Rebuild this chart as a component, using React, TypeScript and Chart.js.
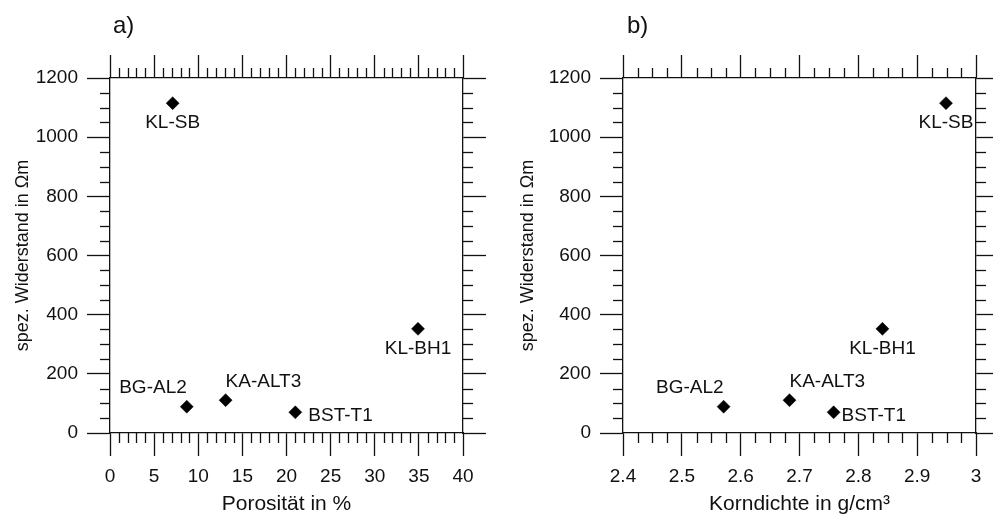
import React, { useEffect, useRef } from 'react';
import { Chart, registerables } from 'chart.js';

Chart.register(...registerables);

// ---- data ----
const samples = ['KL-SB', 'BG-AL2', 'KA-ALT3', 'BST-T1', 'KL-BH1'];
const porosity = [7.1, 8.7, 13.1, 21.0, 34.9];
const grainDensity = [2.949, 2.571, 2.683, 2.758, 2.841];
const resistivity = [1115, 89, 111, 70, 352];

const porosityTicks = [0, 5, 10, 15, 20, 25, 30, 35, 40];
const densityTicks = [2.4, 2.5, 2.6, 2.7, 2.8, 2.9, 3];
const resistivityTicks = [0, 200, 400, 600, 800, 1000, 1200];

const porosityMinor = 1;
const densityMinor = 0.025;
const resistivityMinor = 50;

const xTitleA = 'Porosität in %';
const xTitleB = 'Korndichte in g/cm³';
const yTitle = 'spez. Widerstand in Ωm';

// label placement around each marker (layout, not data)
const placementA = ['below', 'aboveLeft', 'aboveRight', 'right', 'below'];
const placementB = ['below', 'aboveLeft', 'aboveRight', 'right', 'below'];

const FONT = 'Arial, "Liberation Sans", Helvetica, sans-serif';
const INK = '#111';
const LW = 1.3;

const fmt = (v: number) => String(Math.round(v * 1000) / 1000);

const minorTicksPlugin = {
  id: 'minorTicks',
  afterDraw(chart: any, _args: any, opts: any) {
    const { ctx, chartArea } = chart;
    const len = opts.length ?? 10;
    ctx.save();
    ctx.strokeStyle = INK;
    ctx.lineWidth = LW;
    for (const id of Object.keys(opts.steps || {})) {
      const scale = chart.scales[id];
      if (!scale) continue;
      const step = opts.steps[id];
      const majors = scale.ticks.map((t: any) => t.value);
      const n = Math.round((scale.max - scale.min) / step);
      for (let i = 0; i <= n; i++) {
        const v = scale.min + i * step;
        if (majors.some((m: number) => Math.abs(m - v) < step / 10)) continue;
        const p = Math.round(scale.getPixelForValue(v)) + 0.5;
        ctx.beginPath();
        if (scale.position === 'bottom') {
          ctx.moveTo(p, chartArea.bottom);
          ctx.lineTo(p, chartArea.bottom + len);
        } else if (scale.position === 'top') {
          ctx.moveTo(p, chartArea.top);
          ctx.lineTo(p, chartArea.top - len);
        } else if (scale.position === 'left') {
          ctx.moveTo(chartArea.left - len, p);
          ctx.lineTo(chartArea.left, p);
        } else {
          ctx.moveTo(chartArea.right, p);
          ctx.lineTo(chartArea.right + len, p);
        }
        ctx.stroke();
      }
    }
    ctx.restore();
  },
};

const annotPlugin = {
  id: 'annot',
  afterDatasetsDraw(chart: any, _args: any, opts: any) {
    const { ctx } = chart;
    ctx.save();
    ctx.fillStyle = INK;
    // panel letter
    ctx.font = `24px ${FONT}`;
    ctx.textAlign = 'left';
    ctx.textBaseline = 'middle';
    ctx.fillText(opts.panel, opts.panelX, 26);
    // point labels
    ctx.font = `19px ${FONT}`;
    const meta = chart.getDatasetMeta(0);
    meta.data.forEach((el: any, i: number) => {
      const name = opts.names[i];
      const where = opts.placement[i];
      let x = el.x;
      let y = el.y;
      if (where === 'below') {
        ctx.textAlign = 'center';
        y += 20;
      } else if (where === 'aboveLeft') {
        ctx.textAlign = 'right';
        y -= 19;
      } else if (where === 'aboveRight') {
        ctx.textAlign = 'left';
        y -= 18;
      } else {
        ctx.textAlign = 'left';
        x += opts.rightGap;
        y += 3;
      }
      ctx.fillText(name, x, y);
    });
    ctx.restore();
  },
};

function makeConfig(p: {
  xs: number[];
  xTicks: number[];
  xMinor: number;
  xTitle: string;
  panel: string;
  panelX: number;
  placement: string[];
  rightGap: number;
  leftW: number;
  rightW: number;
  yTitlePad: number;
}) {
  const xMin = p.xTicks[0];
  const xMax = p.xTicks[p.xTicks.length - 1];
  const yMin = resistivityTicks[0];
  const yMax = resistivityTicks[resistivityTicks.length - 1];
  const setTicks = (vals: number[]) => (s: any) => {
    s.ticks = vals.map((v) => ({ value: v }));
  };
  const grid = {
    drawOnChartArea: false,
    drawTicks: true,
    tickLength: 23,
    tickColor: INK,
    tickWidth: LW,
  };
  const border = { display: true, color: INK, width: LW };
  return {
    type: 'scatter' as const,
    data: {
      datasets: [
        {
          data: p.xs.map((x, i) => ({ x, y: resistivity[i] })),
          pointStyle: 'rectRot',
          pointRadius: 6.5,
          pointBackgroundColor: '#000',
          pointBorderColor: '#000',
          pointBorderWidth: 0.5,
        },
      ],
    },
    options: {
      responsive: false,
      animation: false,
      events: [],
      layout: { padding: 0 },
      plugins: {
        legend: { display: false },
        tooltip: { enabled: false },
        minorTicks: {
          length: 10,
          steps: { x: p.xMinor, x2: p.xMinor, y: resistivityMinor, y2: resistivityMinor },
        },
        annot: {
          panel: p.panel,
          panelX: p.panelX,
          names: samples,
          placement: p.placement,
          rightGap: p.rightGap,
        },
      },
      scales: {
        x: {
          type: 'linear',
          position: 'bottom',
          min: xMin,
          max: xMax,
          afterBuildTicks: setTicks(p.xTicks),
          afterFit: (s: any) => {
            s.height = 84;
          },
          grid,
          border,
          ticks: {
            color: INK,
            font: { size: 19, family: FONT },
            padding: 9,
            maxRotation: 0,
            autoSkip: false,
            callback: (v: number) => fmt(v),
          },
          title: {
            display: true,
            text: p.xTitle,
            color: INK,
            font: { size: 21, family: FONT },
            padding: { top: 0, bottom: 0 },
          },
        },
        x2: {
          type: 'linear',
          position: 'top',
          min: xMin,
          max: xMax,
          afterBuildTicks: setTicks(p.xTicks),
          afterFit: (s: any) => {
            s.height = 78;
          },
          grid,
          border,
          ticks: { display: false },
        },
        y: {
          type: 'linear',
          position: 'left',
          min: yMin,
          max: yMax,
          afterBuildTicks: setTicks(resistivityTicks),
          afterFit: (s: any) => {
            s.width = p.leftW;
          },
          grid,
          border,
          ticks: {
            color: INK,
            font: { size: 19, family: FONT },
            padding: 9,
            autoSkip: false,
            callback: (v: number) => fmt(v),
          },
          title: {
            display: true,
            text: yTitle,
            color: INK,
            font: { size: 18, family: FONT },
            padding: { top: p.yTitlePad, bottom: 0 },
          },
        },
        y2: {
          type: 'linear',
          position: 'right',
          min: yMin,
          max: yMax,
          afterBuildTicks: setTicks(resistivityTicks),
          afterFit: (s: any) => {
            s.width = p.rightW;
          },
          grid,
          border,
          ticks: { display: false },
        },
      },
    },
    plugins: [minorTicksPlugin, annotPlugin],
  };
}

function Panel({ cfg, width }: { cfg: any; width: number }) {
  const ref = useRef<HTMLCanvasElement | null>(null);
  useEffect(() => {
    if (!ref.current) return;
    const chart = new Chart(ref.current, cfg);
    return () => chart.destroy();
  }, [cfg]);
  return (
    <canvas
      ref={ref}
      width={width}
      height={517}
      style={{ width, height: 517, display: 'block' }}
    />
  );
}

const cfgA = makeConfig({
  xs: porosity,
  xTicks: porosityTicks,
  xMinor: porosityMinor,
  xTitle: xTitleA,
  panel: 'a)',
  panelX: 113,
  placement: placementA,
  rightGap: 13,
  leftW: 110,
  rightW: 33,
  yTitlePad: 12,
});

const cfgB = makeConfig({
  xs: grainDensity,
  xTicks: densityTicks,
  xMinor: densityMinor,
  xTitle: xTitleB,
  panel: 'b)',
  panelX: 131,
  placement: placementB,
  rightGap: 8,
  leftW: 127,
  rightW: 17,
  yTitlePad: 21,
});

export default function App() {
  Chart.defaults.font.family = FONT;
  return (
    <div
      style={{
        position: 'fixed',
        left: 0,
        top: 0,
        width: 993,
        height: 517,
        background: '#fff',
        display: 'flex',
      }}
    >
      <Panel cfg={cfgA} width={496} />
      <Panel cfg={cfgB} width={497} />
    </div>
  );
}
